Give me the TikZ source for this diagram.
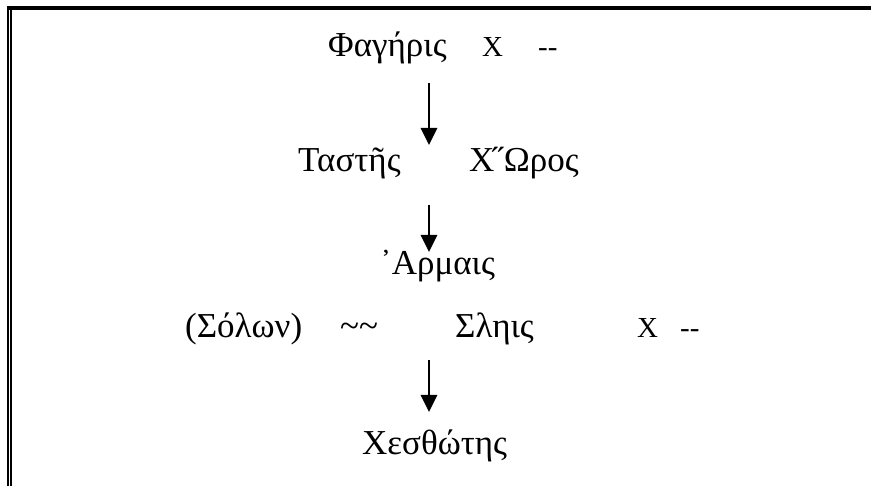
\documentclass[tikz,border=0pt]{standalone}
\usepackage{fontspec}
\setmainfont{Liberation Serif}
\usetikzlibrary{arrows.meta}
\begin{document}
\begin{tikzpicture}[x=1pt,y=-1pt,
  word/.style={inner sep=0pt,anchor=base west,font=\fontsize{35}{40}\selectfont},
  smallx/.style={inner sep=0pt,anchor=base west,font=\fontsize{29}{33}\selectfont},
  flow/.style={line width=2.8pt,-{Triangle[length=17pt,width=16pt]}}]
\useasboundingbox (0,0) rectangle (871,486);
\fill (7,6) rectangle (871,10);
\fill (7,6) rectangle (8.5,486);
\fill (10,10) rectangle (12,486);
% line 1
\node[word] (fag) at (328,57) {Φαγήρις};
\node[smallx] (x1) at (482,57) {X};
\node[smallx] (d1) at (538,57) {-{}-};
% line 2
\node[word] (tas) at (298,172) {Ταστῆς};
\node[word] (x2) at (469,172) {X};
\node[word] (hor) at (492,172) {˝Ωρος};
% line 3
\node[word] (arm) at (380,275) {᾿Αρμαις};
% line 4
\node[word] (sol) at (185,338) {(Σόλων)};
\node[word] (til) at (340,338) {\char`\~\char`\~};
\node[word] (sle) at (455,338) {Σληις};
\node[smallx] (x4) at (637,338) {X};
\node[smallx] (d4) at (680,338) {-{}-};
% line 5
\node[word] (xes) at (362,455) {Χεσθώτης};
% arrows
\coordinate (a1s) at (429,83);
\coordinate (a1e) at (429,145);
\coordinate (a2s) at (429,205);
\coordinate (a2e) at (429,252);
\coordinate (a3s) at (429,360);
\coordinate (a3e) at (429,412);
\draw[flow] (a1s) -- (a1e);
\draw[flow] (a2s) -- (a2e);
\draw[flow] (a3s) -- (a3e);
\end{tikzpicture}
\end{document}
